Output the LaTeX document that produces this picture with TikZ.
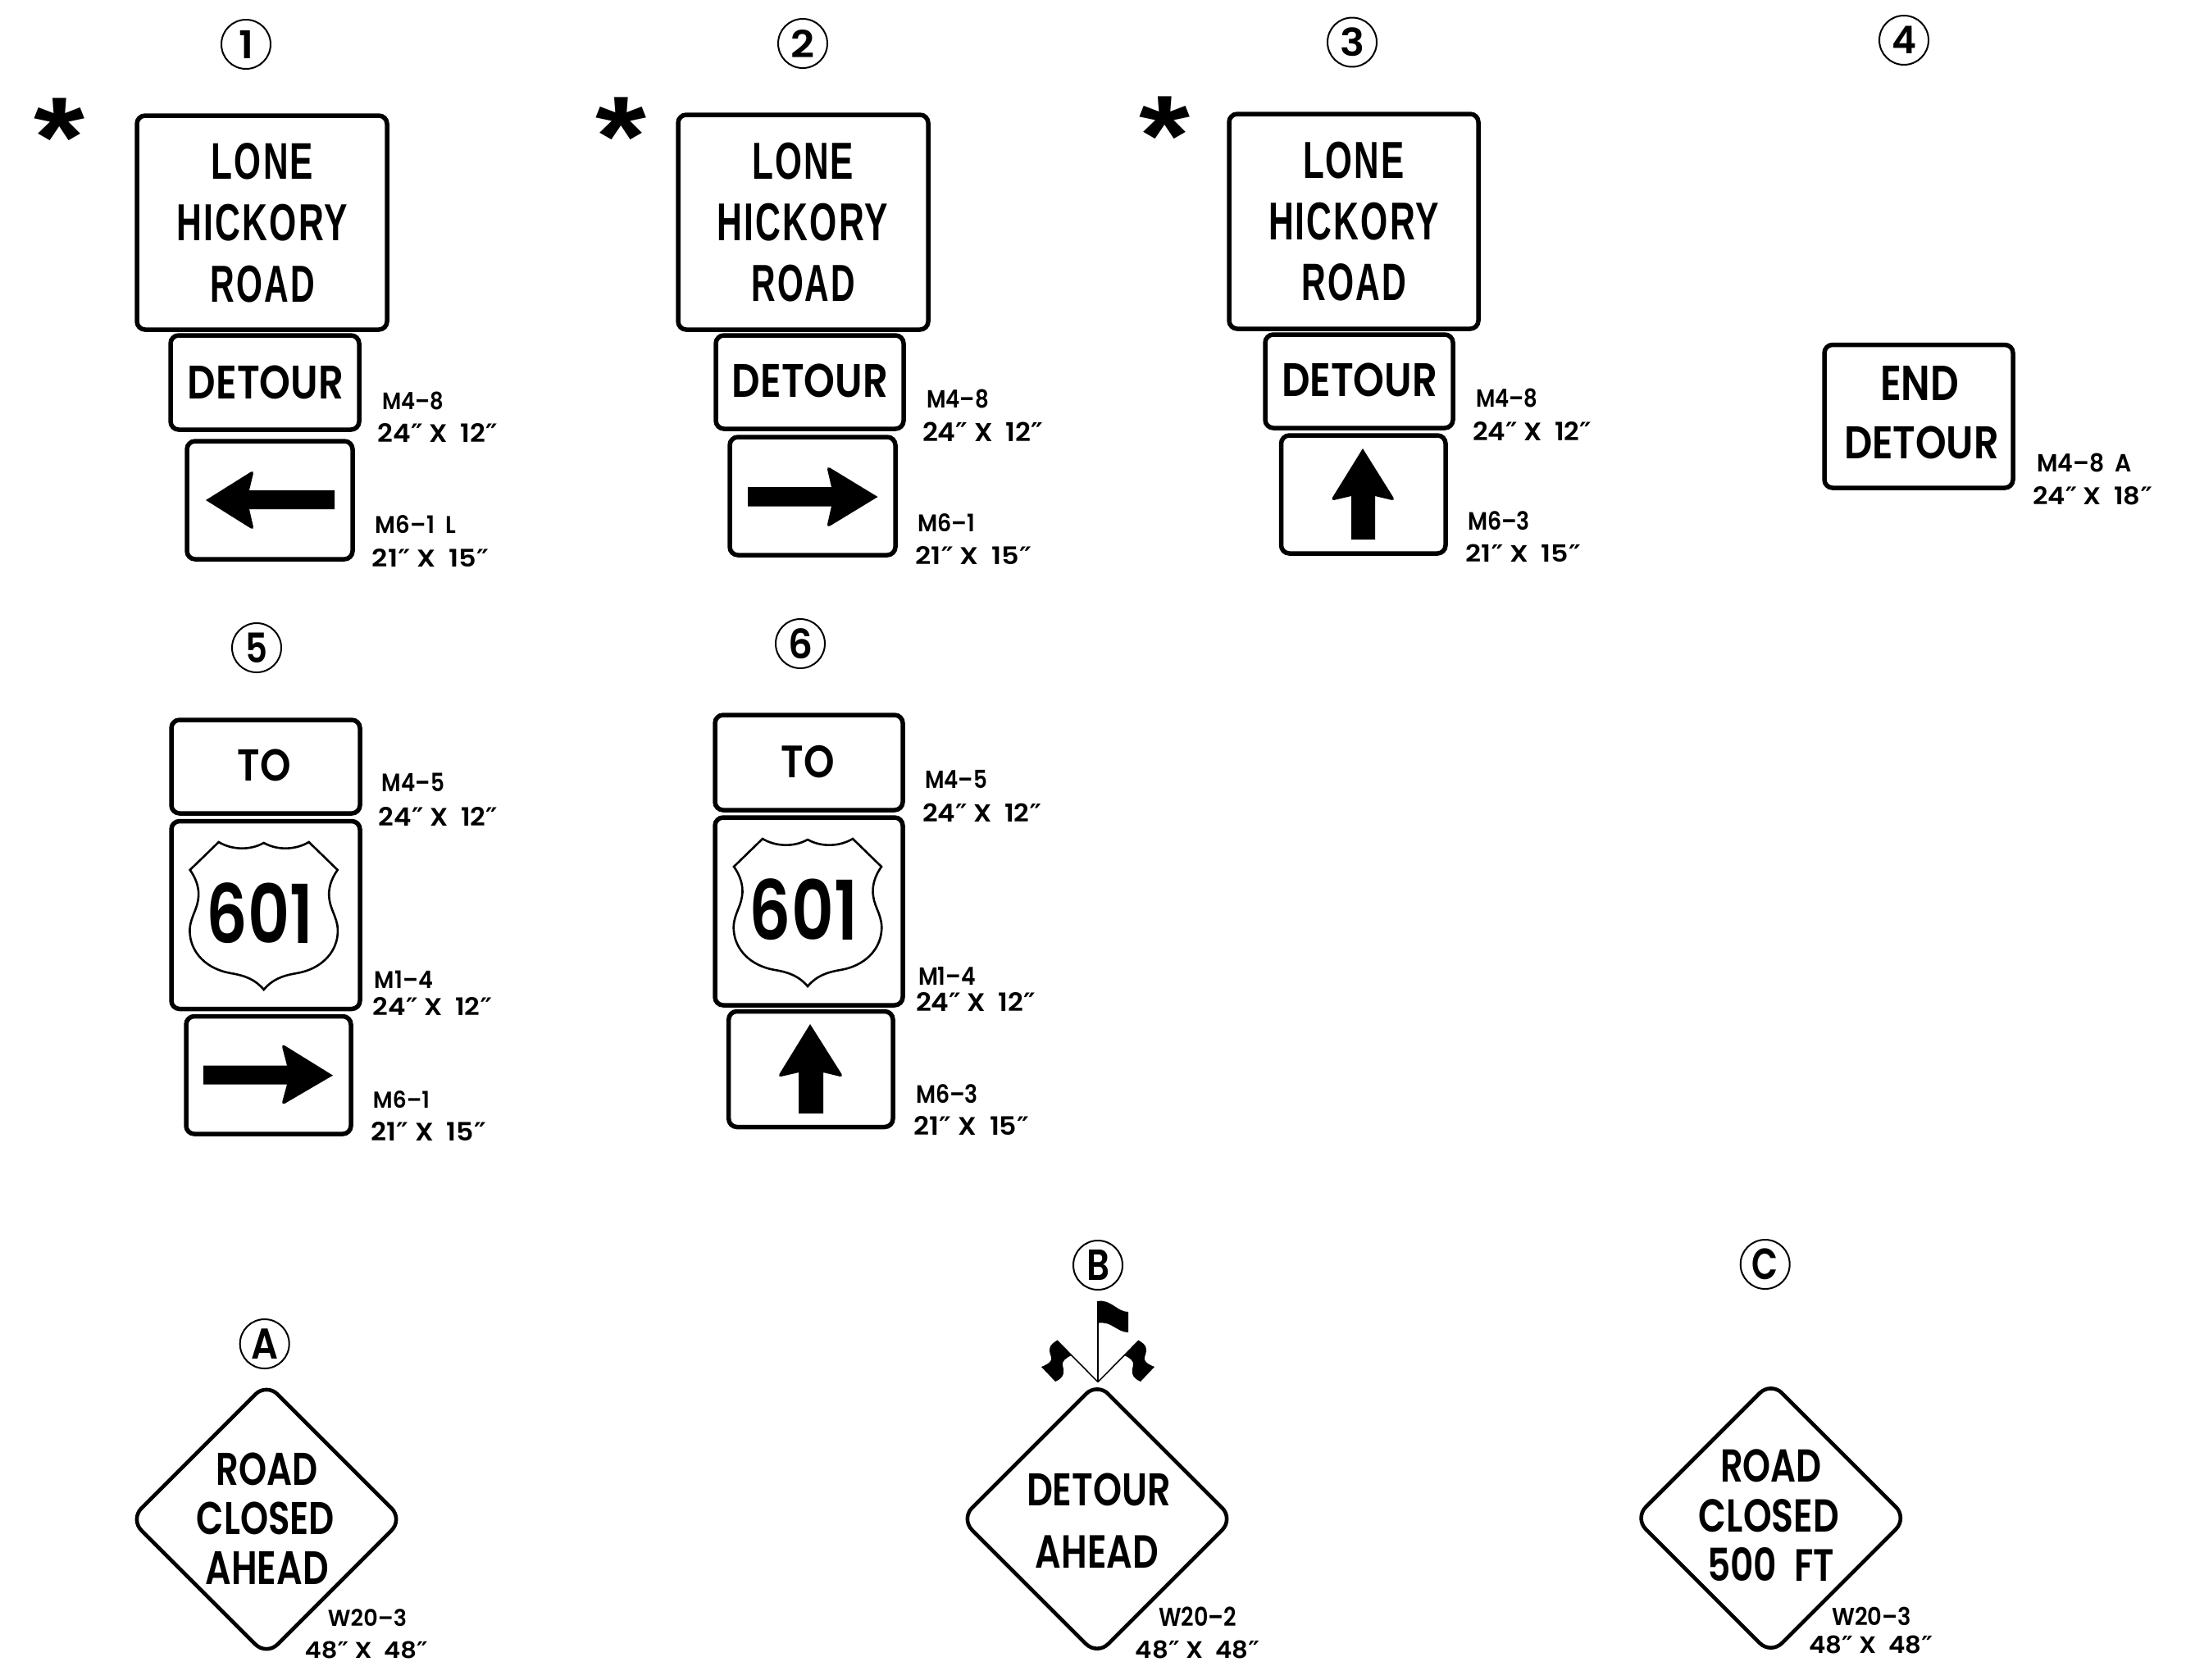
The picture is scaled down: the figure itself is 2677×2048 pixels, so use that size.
\documentclass[tikz,border=0pt]{standalone}
\usepackage{fontspec}
\usepackage{graphicx}
\newfontfamily\fsign{Poppins}[BoldFont={Poppins SemiBold}]
\newfontfamily\fhwy{Liberation Sans}
\newfontfamily\fhwyw{Liberation Sans}[LetterSpace=5]
\newfontfamily\fprime{DejaVu Sans}
\newcommand{\qq}{{\fprime\bfseries ″}}
\newcommand{\sgn}{\fsign\bfseries}
\newcommand{\hwy}{\fhwyw\bfseries}
\newcommand{\astf}{\fhwy\bfseries}
\newcommand{\lab}{\fsign\bfseries}
\newcommand{\starglyph}{\raisebox{-0.29em}[0.396em][0pt]{*}}
\tikzset{
  x=1bp,y=-1bp,
  signbox/.style={draw=black,fill=white,line width=5.5bp,rounded corners=10bp},
  diamondbox/.style={draw=black,fill=white,line width=4.6bp,rounded corners=19bp},
  txt/.style={inner sep=0pt,outer sep=0pt,text=black},
  badge/.style={circle,draw=black,line width=2bp,minimum size=60bp,inner sep=0pt,text=black},
  shieldline/.style={draw=black,line width=2.6bp,line join=miter},
  pole/.style={draw=black,line width=1.6bp},
}
% name, x0, x1, y0, y1, font, text
\newcommand{\tlab}[7]{%
  \pgfmathsetmacro\tw{#3-(#2)}\pgfmathsetmacro\th{#5-(#4)}%
  \node[txt] (#1) at ({(#2+#3)/2},{(#4+#5)/2}) {\resizebox*{\tw bp}{\th bp}{#6#7}};}
\newcommand{\bdg}[6]{%
  \node[badge] (#1) at (#2,#3) {\resizebox*{#4 bp}{#5 bp}{\sgn #6}};}
% horizontal arrow: shaft end x, shaft y0,y1, notch x, back x, back y top,bottom, tip x, tip y
\newcommand{\harrow}[9]{%
  \fill[black] (#1,#2) -- (#4,#2) [rounded corners=5bp] -- (#5,#6) [sharp corners] -- (#8,#9)
     [rounded corners=5bp] -- (#5,#7) [sharp corners] -- (#4,#3) -- (#1,#3) -- cycle;}
% vertical arrow: shaft end y, shaft x0,x1, notch y, back y, back x left,right, tip y, tip x
\newcommand{\varrow}[9]{%
  \fill[black] (#2,#1) -- (#2,#4) [rounded corners=5bp] -- (#6,#5) [sharp corners] -- (#9,#8)
     [rounded corners=5bp] -- (#7,#5) [sharp corners] -- (#3,#4) -- (#3,#1) -- cycle;}
\newcommand{\shield}[2]{%
  \begin{scope}[shift={(#1,#2)}]
  \draw[shieldline] (-55,0) .. controls (-40,9) and (-18,11) .. (0,1)
    .. controls (18,11) and (40,9) .. (55,0) -- (90,34)
    .. controls (82,45) and (78,58) .. (80,70) .. controls (82,85) and (92,95) .. (90,113)
    .. controls (88,135) and (70,155) .. (40,160) .. controls (22,163) and (10,168) .. (0,180)
    .. controls (-10,168) and (-22,163) .. (-40,160) .. controls (-70,155) and (-88,135) .. (-90,113)
    .. controls (-92,95) and (-82,85) .. (-80,70) .. controls (-78,58) and (-82,45) .. (-90,34) -- cycle;
  \end{scope}}
\newcommand{\dmd}[3]{% cx, cy, half diagonal
  \draw[diamondbox] (#1,#2-#3) -- (#1+#3,#2) -- (#1,#2+#3) -- (#1-#3,#2) -- cycle;}
\begin{document}
\begin{tikzpicture}
\useasboundingbox[fill=white] (0,0) rectangle (2677,2048);

% ---- badges
\bdg{b1}{300}{54}{18}{34}{1}
\bdg{b2}{979}{53}{29}{34}{2}
\bdg{b3}{1649}{51.5}{30}{35}{3}
\bdg{b4}{2322}{49}{30}{33.5}{4}
\bdg{b5}{313}{790}{27}{36.5}{5}
\bdg{b6}{976}{785}{30}{37}{6}
\bdg{bA}{322.7}{1639}{33}{36.7}{A}
\bdg{bB}{1339}{1543}{28}{37}{B}
\bdg{bC}{2152.7}{1542}{32}{38}{C}

% ---- asterisks
\tlab{s1}{42}{104}{120}{175}{\astf}{\starglyph}
\tlab{s2}{726}{788}{119}{174}{\astf}{\starglyph}
\tlab{s3}{1389}{1451}{118}{173}{\astf}{\starglyph}

% ---- column 1
\draw[signbox] (167,141) rectangle (472,402);
\tlab{a1}{258}{382}{175}{219.5}{\hwy}{LONE}
\tlab{a2}{216}{424}{249}{294}{\hwy}{HICKORY}
\tlab{a3}{257}{384}{324}{369}{\hwy}{ROAD}
\draw[signbox] (208,409) rectangle (438,524);
\tlab{a4}{229}{419}{446}{487}{\sgn}{DETOUR}
\draw[signbox] (228,538) rectangle (430,682);
\harrow{408}{598}{621}{304}{310}{573}{647}{251}{610}
\tlab{a5}{466}{541}{477.5}{499.5}{\lab}{M4–8}
\tlab{a6}{461}{607}{516.5}{539.5}{\lab}{24\qq\ X\ \ 12\qq}
\tlab{a7}{458}{556}{629}{651}{\lab}{M6–1\ \ L}
\tlab{a8}{454}{596}{669}{691}{\lab}{21\qq\ X\ \ 15\qq}

% ---- column 2
\draw[signbox] (827,140) rectangle (1132,402);
\tlab{c1}{917}{1041}{174.5}{219.5}{\hwy}{LONE}
\tlab{c2}{875}{1083}{248}{294}{\hwy}{HICKORY}
\tlab{c3}{916.5}{1043}{323}{368}{\hwy}{ROAD}
\draw[signbox] (873,409) rectangle (1102,523);
\tlab{c4}{893}{1083}{444}{485}{\sgn}{DETOUR}
\draw[signbox] (890,533) rectangle (1092,677);
\harrow{912}{594}{617.5}{1014}{1008}{568}{644}{1070.5}{606}
\tlab{c5}{1130}{1206}{475}{498}{\lab}{M4–8}
\tlab{c6}{1125}{1272}{515}{538.5}{\lab}{24\qq\ X\ \ 12\qq}
\tlab{c7}{1119}{1189}{627}{649}{\lab}{M6–1}
\tlab{c8}{1116.5}{1258}{666}{688}{\lab}{21\qq\ X\ \ 15\qq}

% ---- column 3
\draw[signbox] (1499,139) rectangle (1803,401);
\tlab{d1}{1589}{1712.6}{173.5}{218.5}{\hwy}{LONE}
\tlab{d2}{1547}{1755}{247}{293}{\hwy}{HICKORY}
\tlab{d3}{1587.6}{1715}{321.5}{367}{\hwy}{ROAD}
\draw[signbox] (1543,408) rectangle (1772,522);
\tlab{d4}{1563}{1753}{443}{484}{\sgn}{DETOUR}
\draw[signbox] (1562.5,531) rectangle (1763,675);
\varrow{658}{1648}{1677}{605}{611}{1622.4}{1702}{547}{1662}
\tlab{d5}{1800}{1875.5}{474}{497}{\lab}{M4–8}
\tlab{d6}{1796}{1941}{514}{537}{\lab}{24\qq\ X\ \ 12\qq}
\tlab{d7}{1790}{1866}{623.5}{646.5}{\lab}{M6–3}
\tlab{d8}{1787.6}{1928}{663.5}{685}{\lab}{21\qq\ X\ \ 15\qq}

% ---- column 4
\draw[signbox] (2225,420.5) rectangle (2455,595);
\tlab{e1}{2293}{2389}{446}{488}{\sgn}{END}
\tlab{e2}{2249}{2438}{520}{560}{\sgn}{DETOUR}
\tlab{e3}{2484}{2600}{553}{576}{\lab}{M4–8\ \ A}
\tlab{e4}{2479}{2625}{593}{615.5}{\lab}{24\qq\ X\ \ 18\qq}

% ---- sign 5
\draw[signbox] (209,878) rectangle (439,992);
\tlab{f1}{290}{355}{914}{953}{\sgn}{TO}
\draw[signbox] (209,1001.5) rectangle (439,1230.5);
\shield{321.7}{1027}
\tlab{f2}{251.7}{382}{1077}{1151}{\sgn}{601}
\draw[signbox] (227,1239.5) rectangle (428,1383);
\harrow{248}{1299.5}{1322.5}{350}{343}{1272.6}{1348.4}{406}{1311.6}
\tlab{f3}{466}{542}{943}{965.5}{\lab}{M4–5}
\tlab{f4}{462}{607}{984}{1007}{\lab}{24\qq\ X\ \ 12\qq}
\tlab{f5}{457}{528}{1183.6}{1205}{\lab}{M1–4}
\tlab{f6}{455}{600}{1216}{1238}{\lab}{24\qq\ X\ \ 12\qq}
\tlab{f7}{455}{524}{1331}{1352}{\lab}{M6–1}
\tlab{f8}{453}{593}{1368}{1391}{\lab}{21\qq\ X\ \ 15\qq}

% ---- sign 6
\draw[signbox] (872,872) rectangle (1101,988);
\tlab{g1}{952.7}{1017.7}{909}{948.6}{\sgn}{TO}
\draw[signbox] (872,997) rectangle (1101,1226);
\shield{985}{1023}
\tlab{g2}{914}{1046}{1072}{1147}{\sgn}{601}
\draw[signbox] (888.7,1233.5) rectangle (1089,1374.5);
\varrow{1358}{974}{1004}{1308}{1314}{948}{1029}{1249}{988}
\tlab{g3}{1128}{1204}{939.5}{961.6}{\lab}{M4–5}
\tlab{g4}{1125}{1270}{980}{1002.4}{\lab}{24\qq\ X\ \ 12\qq}
\tlab{g5}{1120}{1190}{1179}{1201}{\lab}{M1–4}
\tlab{g6}{1117}{1263}{1210.5}{1233.5}{\lab}{24\qq\ X\ \ 12\qq}
\tlab{g7}{1117}{1193}{1323}{1346}{\lab}{M6–3}
\tlab{g8}{1115}{1255}{1361.4}{1384.4}{\lab}{21\qq\ X\ \ 15\qq}

% ---- sign A
\dmd{325}{1853}{166}
\tlab{h1}{264}{388}{1772}{1812}{\sgn}{ROAD}
\tlab{h2}{240}{408}{1832}{1872}{\sgn}{CLOSED}
\tlab{h3}{250.7}{400.7}{1892}{1932}{\sgn}{AHEAD}
\tlab{h4}{400}{496}{1963}{1984}{\lab}{W20–3}
\tlab{h5}{371.7}{521.7}{2002}{2023}{\lab}{48\qq\ X\ \ 48\qq}

% ---- sign B
\dmd{1338}{1852.5}{166}
\tlab{i1}{1252}{1428}{1797}{1837}{\sgn}{DETOUR}
\tlab{i2}{1263}{1413}{1873}{1912.6}{\sgn}{AHEAD}
\tlab{i3}{1413}{1508}{1960}{1983.6}{\lab}{W20–2}
\tlab{i4}{1385}{1536}{2000.7}{2022.7}{\lab}{48\qq\ X\ \ 48\qq}
% flags
\coordinate (apex) at (1339,1685.5);
\coordinate (ptop) at (1339,1589);
\coordinate (pleft) at (1289,1635);
\coordinate (pright) at (1389,1635);
\draw[pole] (ptop) -- (apex);
\draw[pole] (pleft) -- (apex);
\draw[pole] (pright) -- (apex);
\fill[black] (1338.2,1587) .. controls (1355,1584) and (1362,1600) .. (1376,1600) -- (1376,1625)
   .. controls (1362,1625) and (1355,1610) .. (1338.2,1614) -- cycle;
\fill[black] (1289,1635) .. controls (1280,1640) and (1278,1645) .. (1282,1655)
   .. controls (1284,1660) and (1278,1664) .. (1270,1667) -- (1287,1685)
   .. controls (1299,1680) and (1298,1672) .. (1296,1665)
   .. controls (1295,1660) and (1300,1656) .. (1307,1653) -- cycle;
\fill[black] (1389,1635) .. controls (1398,1640) and (1400,1645) .. (1396,1655)
   .. controls (1394,1660) and (1400,1664) .. (1408,1667) -- (1391,1685)
   .. controls (1379,1680) and (1380,1672) .. (1382,1665)
   .. controls (1383,1660) and (1378,1656) .. (1371,1653) -- cycle;

% ---- sign C
\dmd{2159.7}{1851.5}{166}
\tlab{j1}{2098}{2221.7}{1767.5}{1807.7}{\sgn}{ROAD}
\tlab{j2}{2072}{2243}{1828.7}{1869}{\sgn}{CLOSED}
\tlab{j3}{2082}{2237}{1887}{1928}{\sgn}{500\ \ FT}
\tlab{j4}{2234}{2331}{1960}{1982.5}{\lab}{W20–3}
\tlab{j5}{2206}{2357}{1995}{2017}{\lab}{48\qq\ X\ \ 48\qq}
\end{tikzpicture}
\end{document}
